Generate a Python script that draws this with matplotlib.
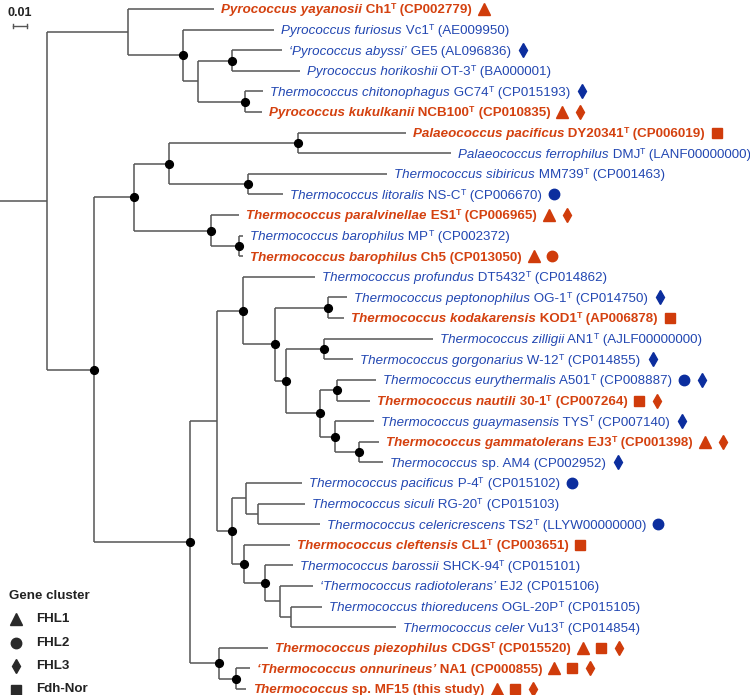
import matplotlib
matplotlib.use("Agg")
import matplotlib.pyplot as plt
from matplotlib.collections import LineCollection

plt.rcParams["font.family"] = ["Liberation Sans", "DejaVu Sans"]

RED = "#d4410f"
BLUE = "#2247b2"
RED_MK = "#d03c0b"
BLUE_MK = "#0c2e9e"
BRANCH = "#555555"

# tree topology with branch lengths (substitutions per site); "*" = supported node
TREE = """
((t1:0.0614,(t2:0.0650,((t3:0.0357,t4:0.0486)*:0.0243,(t5:0.0129,t6:0.0121)*:0.0336):0.0107)*:0.0393):0.0579,
(((((t7:0.0771,t8:0.1093)*:0.0921,(t9:0.0993,t10:0.0250)*:0.0564)*:0.0250,
(t11:0.0200,(t12:0.0029,t13:0.0029)*:0.0200)*:0.0550)*:0.0286,
(((t14:0.0514,((t15:0.0136,t16:0.0114)*:0.0379,((t17:0.0779,t18:0.0207)*:0.0271,
((t19:0.0279,t20:0.0236)*:0.0121,(t21:0.0279,(t22:0.0143,t23:0.0171)*:0.0171)*:0.0107)*:0.0243)*:0.0079)*:0.0229)*:0.0186,
((t24:0.0400,(t25:0.0336,t26:0.0443):0.0086):0.0100,(t27:0.0329,(t28:0.0200,(t29:0.0236,(t30:0.0221,t31:0.0750):0.0079):0.0107)*:0.0150)*:0.0086)*:0.0107):0.0193,
(t32:0.0350,(t33:0.0100,t34:0.0071)*:0.0121)*:0.0207)*:0.0686)*:0.0336)):0.0336;
"""

species = [
    "Pyrococcus yayanosii", "Pyrococcus furiosus", "\u2018Pyrococcus abyssi\u2019",
    "Pyrococcus horikoshii", "Thermococcus chitonophagus", "Pyrococcus kukulkanii",
    "Palaeococcus pacificus", "Palaeococcus ferrophilus", "Thermococcus sibiricus",
    "Thermococcus litoralis", "Thermococcus paralvinellae", "Thermococcus barophilus",
    "Thermococcus barophilus", "Thermococcus profundus", "Thermococcus peptonophilus",
    "Thermococcus kodakarensis", "Thermococcus zilligii", "Thermococcus gorgonarius",
    "Thermococcus eurythermalis", "Thermococcus nautili", "Thermococcus guaymasensis",
    "Thermococcus gammatolerans", "Thermococcus", "Thermococcus pacificus",
    "Thermococcus siculi", "Thermococcus celericrescens", "Thermococcus cleftensis",
    "Thermococcus barossii", "\u2018Thermococcus radiotolerans\u2019", "Thermococcus thioreducens",
    "Thermococcus celer", "Thermococcus piezophilus", "\u2018Thermococcus onnurineus\u2019",
    "Thermococcus",
]
strains = [
    "Ch1", "Vc1", "GE5", "OT-3", "GC74", "NCB100", "DY20341", "DMJ", "MM739", "NS-C",
    "ES1", "MP", "Ch5", "DT5432", "OG-1", "KOD1", "AN1", "W-12", "A501", "30-1",
    "TYS", "EJ3", "sp. AM4", "P-4", "RG-20", "TS2", "CL1", "SHCK-94", "EJ2", "OGL-20P",
    "Vu13", "CDGS", "NA1", "sp. MF15",
]
type_strain = [1, 1, 0, 1, 1, 1, 1, 1, 1, 1, 1, 1, 0, 1, 1, 1, 1, 1, 1, 1,
               1, 1, 0, 1, 1, 1, 1, 1, 0, 1, 1, 1, 0, 0]
accessions = [
    "CP002779", "AE009950", "AL096836", "BA000001", "CP015193", "CP010835",
    "CP006019", "LANF00000000", "CP001463", "CP006670", "CP006965", "CP002372",
    "CP013050", "CP014862", "CP014750", "AP006878", "AJLF00000000", "CP014855",
    "CP008887", "CP007264", "CP007140", "CP001398", "CP002952", "CP015102",
    "CP015103", "LLYW00000000", "CP003651", "CP015101", "CP015106", "CP015105",
    "CP014854", "CP015520", "CP000855", "this study",
]
highlight = [1, 0, 0, 0, 0, 1, 1, 0, 0, 0, 1, 0, 1, 0, 0, 1, 0, 0, 0, 1,
             0, 1, 0, 0, 0, 0, 1, 0, 0, 0, 0, 1, 1, 1]
gene_clusters = [
    ["FHL1"], [], ["FHL3"], [], ["FHL3"], ["FHL1", "FHL3"], ["Fdh-Nor"], [], [],
    ["FHL2"], ["FHL1", "FHL3"], [], ["FHL1", "FHL2"], [], ["FHL3"], ["Fdh-Nor"], [],
    ["FHL3"], ["FHL2", "FHL3"], ["Fdh-Nor", "FHL3"], ["FHL3"], ["FHL1", "FHL3"],
    ["FHL3"], ["FHL2"], [], ["FHL2"], ["Fdh-Nor"], [], [], [], [],
    ["FHL1", "Fdh-Nor", "FHL3"], ["FHL1", "Fdh-Nor", "FHL3"], ["FHL1", "Fdh-Nor", "FHL3"],
]
cluster_names = ["FHL1", "FHL2", "FHL3", "Fdh-Nor"]
cluster_markers = {"FHL1": ("^", 8.5), "FHL2": ("o", 7.5), "FHL3": ("d", 7.4), "Fdh-Nor": ("s", 7.0)}


def parse_newick(s):
    s = "".join(s.split()).rstrip(";")
    pos = 0

    def node():
        nonlocal pos
        children = []
        if s[pos] == "(":
            pos += 1
            while True:
                children.append(node())
                if s[pos] == ",":
                    pos += 1
                    continue
                pos += 1
                break
        start = pos
        while pos < len(s) and s[pos] not in ":,)":
            pos += 1
        name = s[start:pos]
        length = 0.0
        if pos < len(s) and s[pos] == ":":
            pos += 1
            start = pos
            while pos < len(s) and s[pos] not in ",)":
                pos += 1
            length = float(s[start:pos])
        return {"name": name, "len": length, "children": children}

    return node()


def layout(node, x0, leaves):
    node["x"] = x0 + node["len"]
    if not node["children"]:
        node["y"] = len(leaves)
        leaves.append(node)
    else:
        for c in node["children"]:
            layout(c, node["x"], leaves)
        node["y"] = (node["children"][0]["y"] + node["children"][-1]["y"]) / 2


def collect(node, segs, dots):
    if node["name"] == "*":
        dots.append((node["x"], node["y"]))
    if node["children"]:
        ys = [c["y"] for c in node["children"]]
        segs.append([(node["x"], min(ys)), (node["x"], max(ys))])
        for c in node["children"]:
            segs.append([(node["x"], c["y"]), (c["x"], c["y"])])
            collect(c, segs, dots)


root = parse_newick(TREE)
leaves = []
layout(root, 0.0, leaves)
segs = [[(0.0, root["y"]), (root["x"], root["y"])]]
dots = []
collect(root, segs, dots)

W, H = 750, 695
fig = plt.figure(figsize=(W / 100, H / 100), dpi=100)
ax = fig.add_axes([0, 0, 1, 1])
ax.set_xlim(0, W / 1400)
step = (689 - 9) / 33
ax.set_ylim(33 + (H - 689) / step, -9 / step)
ax.axis("off")

ax.add_collection(LineCollection(segs, colors=BRANCH, linewidths=1.1, capstyle="butt"))
ax.plot([d[0] for d in dots], [d[1] for d in dots], "o", color="black", ms=5.6, zorder=3)

FS = 9.6
last_pieces = []
for i, leaf in enumerate(leaves):
    hl = bool(highlight[i])
    col = RED if hl else BLUE
    wt = "bold" if hl else "normal"
    t = ax.annotate(species[i], xy=(leaf["x"], leaf["y"]), xytext=(5, -1),
                    textcoords="offset points", va="center", ha="left",
                    fontsize=FS, color=col, fontweight=wt, style="italic")
    base = ax.annotate(" " + strains[i], xy=(1, 0), xycoords=t, va="bottom", ha="left",
                       fontsize=FS, color=col, fontweight=wt)
    prev = base
    if type_strain[i]:
        prev = ax.annotate("T", xy=(1, 0.42), xycoords=base, va="bottom", ha="left",
                           fontsize=6.3, color=col, fontweight=wt)
    acc = ax.annotate(" (" + accessions[i] + ")", xy=(1, 0), xycoords=(prev, base),
                      va="bottom", ha="left", fontsize=FS, color=col, fontweight=wt)
    last_pieces.append(acc)

fig.canvas.draw()
renderer = fig.canvas.get_renderer()
inv = ax.transData.inverted()
for i, leaf in enumerate(leaves):
    if not gene_clusters[i]:
        continue
    bb = last_pieces[i].get_window_extent(renderer)
    mk_col = RED_MK if highlight[i] else BLUE_MK
    for k, g in enumerate(gene_clusters[i]):
        xd = bb.x1 + 12 + 18 * k
        x_data = inv.transform((xd, 0))[0]
        m, ms = cluster_markers[g]
        ax.plot([x_data], [leaf["y"]], marker=m, ms=ms, color=mk_col, ls="none")

# scale bar
ax.plot([13 / 1400, 13 / 1400 + 0.01], [(26 - 9) / step] * 2, color=BRANCH, lw=1.0)
for xe in (13 / 1400, 13 / 1400 + 0.01):
    ax.plot([xe, xe], [(26 - 9) / step - 0.1, (26 - 9) / step + 0.1], color=BRANCH, lw=1.0)
ax.text(13 / 1400 + 0.005, (13 - 9) / step, "0.01", ha="center", va="center",
        fontsize=9, fontweight="bold", color="#222222")

# legend
ax.text(9 / W, 1 - 596 / H, "Gene cluster", transform=ax.transAxes, ha="left", va="center",
        fontsize=9.6, fontweight="bold", color="#222222")
for k, g in enumerate(cluster_names):
    yk = 1 - (619 + 23.5 * k) / H
    m, ms = cluster_markers[g]
    ax.plot([16 / W], [yk], marker=m, ms=ms, color="#2a2a2a", ls="none", transform=ax.transAxes)
    ax.text(36 / W, yk, g, transform=ax.transAxes, ha="left", va="center",
            fontsize=9.6, fontweight="bold", color="#222222")

fig.savefig("out.png", dpi=100)
